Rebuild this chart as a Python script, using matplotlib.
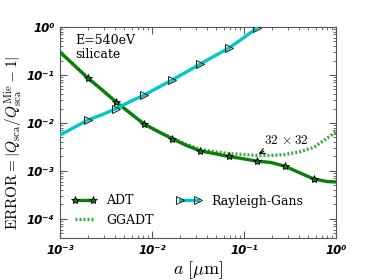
import numpy as np
import matplotlib
matplotlib.use("Agg")
import matplotlib.pyplot as plt
from matplotlib.ticker import FuncFormatter, LogLocator

# --- DATA ---
a = [0.001, 0.0014, 0.002, 0.0029, 0.0041, 0.0058, 0.0082, 0.0117, 0.0166,
     0.0236, 0.0336, 0.048, 0.068, 0.097, 0.138, 0.196, 0.28, 0.40, 0.575,
     0.80, 1.0]
err_adt = [0.30, 0.165, 0.087, 0.048, 0.027, 0.016, 0.0095, 0.0066, 0.0047,
           0.0034, 0.0026, 0.0023, 0.0020, 0.0018, 0.0016, 0.0015, 0.00125,
           0.00092, 0.00068, 0.00060, 0.00059]
err_ggadt = [0.30, 0.165, 0.087, 0.048, 0.027, 0.016, 0.0095, 0.0066, 0.0048,
             0.0036, 0.0028, 0.0025, 0.0023, 0.0022, 0.0021, 0.0021, 0.0022,
             0.0025, 0.0031, 0.0048, 0.0066]
a_rg = a[:16]
err_rg = [0.0056, 0.0079, 0.0115, 0.015, 0.020, 0.028, 0.038, 0.055, 0.079,
          0.115, 0.17, 0.25, 0.36, 0.58, 0.95, 1.7]

plt.rcParams['mathtext.fontset'] = 'cm'

fig = plt.figure(figsize=(3.74, 2.80), dpi=100)
ax = fig.add_axes([60 / 374, 42 / 280, 276 / 374, 211 / 280])

ax.plot(a, err_ggadt, ls=(0, (0.6, 0.6)), lw=2.4, color='#3aa83a', label='GGADT', zorder=2)
ax.plot(a, err_adt, '-', lw=2.4, color='#0a7d0a', marker='*', ms=6,
        mec='k', mfc='#0a7d0a', mew=0.6, markevery=slice(2, 19, 2),
        label='ADT', zorder=3)
ax.plot(a_rg, err_rg, '-', lw=2.4, color='#00c8c8', marker='>', ms=6,
        mec='k', mfc='none', mew=0.6, markevery=slice(2, 16, 2),
        label='Rayleigh-Gans', zorder=3)

ax.set_xscale('log')
ax.set_yscale('log')
ax.set_xlim(1e-3, 1)
ax.set_ylim(4e-5, 1)

sup = str.maketrans('-0123456789', '⁻⁰¹²³⁴⁵⁶⁷⁸⁹')
fmt = FuncFormatter(lambda v, p: '10' + str(int(round(np.log10(v)))).translate(sup))
ax.xaxis.set_major_formatter(fmt)
ax.yaxis.set_major_formatter(fmt)
ax.xaxis.set_major_locator(LogLocator(base=10, numticks=10))
ax.yaxis.set_major_locator(LogLocator(base=10, numticks=10))
ax.xaxis.set_minor_locator(LogLocator(base=10, subs=np.arange(2, 10), numticks=20))
ax.yaxis.set_minor_locator(LogLocator(base=10, subs=np.arange(2, 10), numticks=20))

ax.tick_params(which='both', direction='in', top=True, right=True, color='#555555')
ax.tick_params(which='major', length=5, labelsize=8.5, pad=4)
ax.tick_params(which='minor', length=2.5)
for lab in ax.get_xticklabels() + ax.get_yticklabels():
    lab.set_fontweight('bold')
    lab.set_fontstyle('italic')
for sp in ax.spines.values():
    sp.set_color('#555555')

ax.set_xlabel(r'$a\ [\mu\mathrm{m}]$', fontsize=13, labelpad=2)
ax.set_ylabel(r'$\mathrm{ERROR} = |Q_{\mathrm{sca}}/Q_{\mathrm{sca}}^{\mathrm{Mie}} - 1|$',
              fontsize=11)
ax.yaxis.set_label_coords(-0.125, 0.45)

ax.text(0.055, 0.965, 'E=540eV\nsilicate', transform=ax.transAxes,
        family='DejaVu Serif', fontsize=9, va='top', ha='left', linespacing=1.05)

ax.annotate(r'$32\,\times 32$', xy=(0.135, 0.00215), xytext=(0.165, 0.0031),
            fontsize=9.5, ha='left', va='bottom',
            arrowprops=dict(arrowstyle='->', color='k', lw=0.8))

h, l = ax.get_legend_handles_labels()
order = [1, 0, 2]
ax.legend([h[i] for i in order], [l[i] for i in order], loc='lower left',
          ncol=2, frameon=False, numpoints=2, handlelength=2.0,
          prop={'family': 'DejaVu Serif', 'size': 9}, columnspacing=1.8,
          bbox_to_anchor=(0.0, 0.0))

fig.savefig('out.png', dpi=100)
